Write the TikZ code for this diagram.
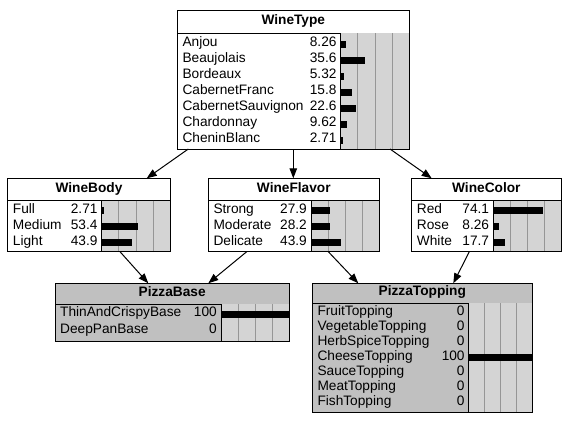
\documentclass[tikz,border=0pt]{standalone}
\usepackage{fontspec}
\setmainfont{Liberation Sans}
\usepackage{tikz}
\usetikzlibrary{arrows.meta}
\usepackage{xcolor}
\definecolor{nodegray}{RGB}{192,192,192}
\definecolor{bargray}{RGB}{212,212,212}
\definecolor{gridgray}{RGB}{150,150,150}
\tikzstyle{N} = [rectangle,draw=black,line width=1pt,fill=white,anchor=north west,inner sep=0pt,outer sep=0pt]
\tikzstyle{F} = [N,fill=nodegray]
\tikzstyle{T} = [anchor=mid,inner sep=0pt,font=\fontsize{13.7}{16}\selectfont\bfseries]
\tikzstyle{L} = [anchor=mid west,inner sep=0pt]
\tikzstyle{V} = [anchor=mid east,inner sep=0pt]
\tikzset{>={Triangle[length=10pt,width=7.5pt]}}
% #1 node, #2 title band, #3 bar width, #4 first row, #5 row step, #6 title, #7 states
\newcommand{\netrows}[7]{%
  \node [T] at ([yshift={-#2/2*1pt}]#1.north) {#6};
  \draw [line width=1pt] ([yshift=-#2pt]#1.north west) -- ([yshift=-#2pt]#1.north east);
  \fill [bargray] ([xshift=-#3pt,yshift=-#2pt]#1.north east) rectangle (#1.south east);
  \foreach \k in {1,2,3}
    \draw [gridgray,line width=0.8pt] ([xshift={-#3*\k/4*1pt},yshift=-#2pt]#1.north east) -- ([xshift={-#3*\k/4*1pt}]#1.south east);
  \foreach \lab/\val [count=\i from 0] in {#7} {
    \node [L] at ([xshift=5pt,yshift={-(#2+#4+\i*#5)*1pt}]#1.north west) {\lab};
    \node [V] at ([xshift={-(#3+4)*1pt},yshift={-(#2+#4+\i*#5)*1pt}]#1.north east) {\val};
    \fill ([xshift=-#3pt,yshift={-(#2+#4+\i*#5-3.5)*1pt}]#1.north east) rectangle ++({#3*\val/100},7);
  }
  \draw [line width=1pt] ([xshift=-#3pt,yshift=-#2pt]#1.north east) -- ([xshift=-#3pt]#1.south east);
  \draw [line width=1pt] (#1.north west) rectangle (#1.south east);
}

\begin{document}
\begin{tikzpicture}[x=1pt,y=-1pt,font=\fontsize{13.7}{16}\selectfont]
  \useasboundingbox (0,0) rectangle (569,425);

  \node [N,minimum width=232pt,minimum height=138.3pt] (wt) at (177.3,10.7) {};
  \node [N,minimum width=162.6pt,minimum height=73.4pt] (wb) at (7.7,178.3) {};
  \node [N,minimum width=171pt,minimum height=73.4pt] (wf) at (208.3,178.3) {};
  \node [N,minimum width=149.3pt,minimum height=73.4pt] (wc) at (411.7,178.3) {};
  \node [F,minimum width=234.3pt,minimum height=57.7pt] (pb) at (55,283.3) {};
  \node [F,minimum width=220pt,minimum height=129pt] (pt) at (312.3,283.3) {};

  \netrows{wt}{22.6}{68.6}{11}{16}{WineType}{Anjou/8.26, Beaujolais/35.6, Bordeaux/5.32,
    CabernetFranc/15.8, CabernetSauvignon/22.6, Chardonnay/9.62, CheninBlanc/2.71}
  \netrows{wb}{22.4}{68.6}{10}{16}{WineBody}{Full/2.71, Medium/53.4, Light/43.9}
  \netrows{wf}{22.4}{68.3}{10}{16}{WineFlavor}{Strong/27.9, Moderate/28.2, Delicate/43.9}
  \netrows{wc}{22.4}{67.7}{10}{16}{WineColor}{Red/74.1, Rose/8.26, White/17.7}
  \netrows{pb}{21}{68.3}{10}{16.7}{PizzaBase}{ThinAndCrispyBase/100, DeepPanBase/0}
  \netrows{pt}{20}{63.5}{9.4}{15}{PizzaTopping}{FruitTopping/0, VegetableTopping/0,
    HerbSpiceTopping/0, CheeseTopping/100, SauceTopping/0, MeatTopping/0, FishTopping/0}

  \draw [->,line width=1pt] ([xshift=11pt]wt.south west) -- ([xshift=-23.6pt]wb.north east);
  \draw [->,line width=1pt] (wt.south) -- (wt.south |- wf.north);
  \draw [->,line width=1pt] ([xshift=-19.3pt]wt.south east) -- ([xshift=20pt]wc.north west);
  \draw [->,line width=1pt] ([xshift=-50.3pt]wb.south east) -- ([xshift=93.3pt]pb.north west);
  \draw [->,line width=1pt] ([xshift=38.4pt]wf.south west) -- ([xshift=-81pt]pb.north east);
  \draw [->,line width=1pt] ([xshift=-51pt]wf.south east) -- ([xshift=46pt]pt.north west);
  \draw [->,line width=1pt] ([xshift=57.6pt]wc.south west) -- ([xshift=-79pt]pt.north east);
\end{tikzpicture}
\end{document}
